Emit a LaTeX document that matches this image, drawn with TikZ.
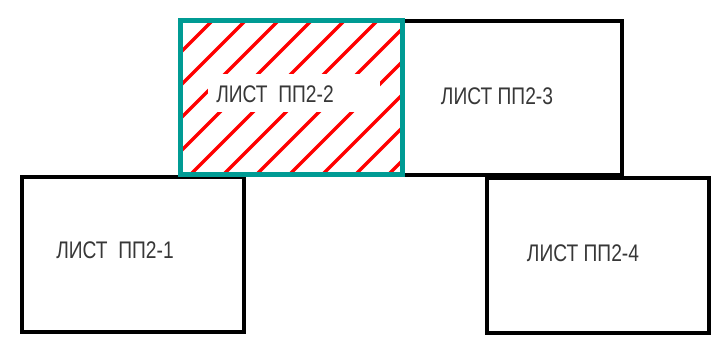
\documentclass[tikz,border=0pt]{standalone}
\usepackage{fontspec}
\setmainfont{Liberation Sans}
\definecolor{tealline}{RGB}{0,155,148}
\definecolor{labelgray}{RGB}{55,55,55}
\definecolor{hatchred}{RGB}{255,0,0}
\newcommand{\sheetlabel}[1]{\scalebox{0.8}[1]{#1}}
\tikzset{
  sheet/.style={draw=black, line width=4pt, inner sep=0pt, fill=none},
  activesheet/.style={draw=tealline, line width=5pt, inner sep=0pt, fill=none},
  hatchline/.style={draw=hatchred, line width=3.3pt, line cap=round},
  sheetname/.style={text=labelgray, inner sep=0pt, font=\fontsize{24}{24}\selectfont}
}
\begin{document}
\begin{tikzpicture}[x=1pt,y=-1pt]
\useasboundingbox (0,0) rectangle (720,341);
\fill[white] (0,0) rectangle (720,341);
% plain sheets
\node[sheet, minimum width=219.5pt, minimum height=154.5pt] (s3) at (512.25,97.75) {};
\node[sheet, minimum width=222pt, minimum height=155pt] (s1) at (133,254.5) {};
\node[sheet, minimum width=222pt, minimum height=154.5pt] (s4) at (598,255.25) {};
% hatching of the active sheet
\begin{scope}
  \clip (180.5,20) rectangle (402.5,174);
  \foreach \c in {200,233,...,630} {
    \draw[hatchline] ({\c-200},200) -- (\c,0);
  }
\end{scope}
\fill[white] (208,74) rectangle (380,112);
\node[activesheet, minimum width=222pt, minimum height=154pt] (s2) at (291.5,97) {};
% labels
\node[sheetname] (l1) at (115,250) {\sheetlabel{ЛИСТ~~ПП2-1}};
\node[sheetname] (l2) at (275,94) {\sheetlabel{ЛИСТ~~ПП2-2}};
\node[sheetname] (l3) at (497,96) {\sheetlabel{ЛИСТ ПП2-3}};
\node[sheetname] (l4) at (583,253) {\sheetlabel{ЛИСТ ПП2-4}};
\end{tikzpicture}
\end{document}
